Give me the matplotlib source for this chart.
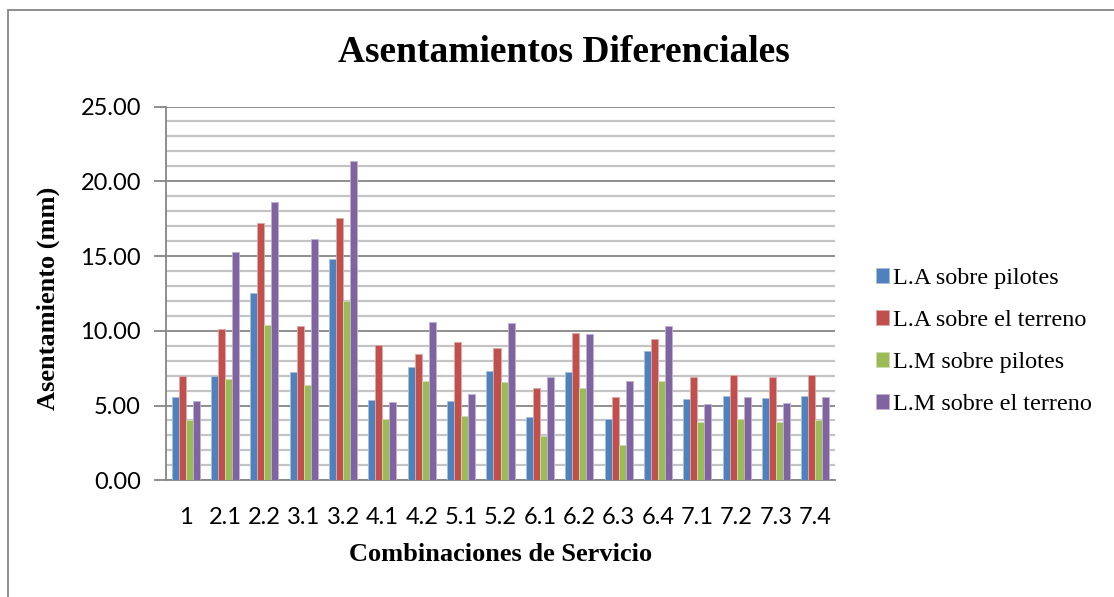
import matplotlib
matplotlib.use("Agg")
import matplotlib.pyplot as plt
from matplotlib.patches import Rectangle
from matplotlib.ticker import MultipleLocator, FormatStrFormatter
import numpy as np

categories = ["1", "2.1", "2.2", "3.1", "3.2", "4.1", "4.2", "5.1", "5.2",
              "6.1", "6.2", "6.3", "6.4", "7.1", "7.2", "7.3", "7.4"]

la_pilotes = [5.58, 6.96, 12.54, 7.27, 14.81, 5.35, 7.61, 5.33, 7.34,
              4.26, 7.27, 4.13, 8.63, 5.47, 5.67, 5.51, 5.62]
la_terreno = [7.00, 10.15, 17.22, 10.33, 17.56, 9.04, 8.48, 9.28, 8.84,
              6.16, 9.86, 5.58, 9.48, 6.94, 7.03, 6.92, 7.05]
lm_pilotes = [4.00, 6.80, 10.42, 6.36, 12.00, 4.10, 6.67, 4.33, 6.58,
              2.95, 6.20, 2.34, 6.65, 3.88, 4.10, 3.88, 4.06]
lm_terreno = [5.31, 15.30, 18.61, 16.13, 21.33, 5.22, 10.58, 5.80, 10.49,
              6.94, 9.79, 6.65, 10.33, 5.13, 5.58, 5.15, 5.58]

series_names = ["L.A sobre pilotes", "L.A sobre el terreno",
                "L.M sobre pilotes", "L.M sobre el terreno"]
series_values = [la_pilotes, la_terreno, lm_pilotes, lm_terreno]
colors = ["#4F81BD", "#C0504D", "#9BBB59", "#8064A2"]
edges = ["#A7C0DE", "#E0A8A6", "#CDDDAC", "#BFB1D0"]

serif = ["Liberation Serif", "DejaVu Serif"]
sans = ["Lato", "DejaVu Sans"]

fig = plt.figure(figsize=(11.14, 5.97), dpi=100)
fig.patch.set_facecolor("white")

# outer chart frame
fig.patches.append(Rectangle((8 / 1114, -0.05), 1.2, 1 - 10 / 597 + 0.05,
                             transform=fig.transFigure, fill=False,
                             edgecolor="#868686", linewidth=1.3))

ax = fig.add_axes([166 / 1114, 1 - 480.3 / 597, (835 - 166) / 1114, (480.3 - 106.5) / 597])

x = np.arange(len(categories))
w = 0.178
for i, (name, vals) in enumerate(zip(series_names, series_values)):
    ax.bar(x + (i - 1.5) * w, vals, width=w, color=colors[i],
           edgecolor=edges[i], linewidth=0.6, label=name, zorder=3)

ax.set_xlim(-0.5, len(categories) - 0.5)
ax.set_ylim(0, 25)
ax.yaxis.set_major_locator(MultipleLocator(5))
ax.yaxis.set_minor_locator(MultipleLocator(1))
ax.yaxis.set_major_formatter(FormatStrFormatter("%.2f"))
ax.grid(which="major", axis="y", color="#868686", linewidth=1.3, zorder=1)
ax.grid(which="minor", axis="y", color="#C4C4C4", linewidth=1.6, zorder=1)
ax.set_axisbelow(True)

for s in ["top", "right"]:
    ax.spines[s].set_visible(False)
for s in ["left", "bottom"]:
    ax.spines[s].set_color("#868686")
    ax.spines[s].set_linewidth(1.3)

ax.set_xticks(x)
ax.set_xticklabels(categories, fontfamily=sans, fontsize=17)
ax.tick_params(axis="x", length=0, pad=19)
ax.tick_params(axis="y", which="major", length=9, color="#868686", width=1.3,
               labelsize=17, pad=9)
ax.tick_params(axis="y", which="minor", length=0)
for lbl in ax.get_yticklabels():
    lbl.set_fontfamily(sans)

ax.set_ylabel("Asentamiento (mm)", fontfamily=serif, fontweight="bold",
              fontsize=19, labelpad=8)
ax.set_xlabel("Combinaciones de Servicio", fontfamily=serif, fontweight="bold",
              fontsize=19, labelpad=11)
ax.yaxis.set_label_coords(60 / 1114, 0.5, transform=fig.transFigure)

fig.text(564 / 1114, 1 - 53 / 597, "Asentamientos Diferenciales",
         fontfamily=serif, fontweight="bold", fontsize=27,
         ha="center", va="center")

leg = ax.legend(loc="upper left", bbox_to_anchor=(876 / 1114, 1 - 268 / 597),
                bbox_transform=fig.transFigure, frameon=False,
                prop={"family": serif, "size": 17.4},
                handlelength=0.53, handleheight=0.53, handletextpad=0.17,
                labelspacing=0.87, borderaxespad=0, borderpad=0)

fig.savefig("out.png", dpi=100, facecolor="white")
